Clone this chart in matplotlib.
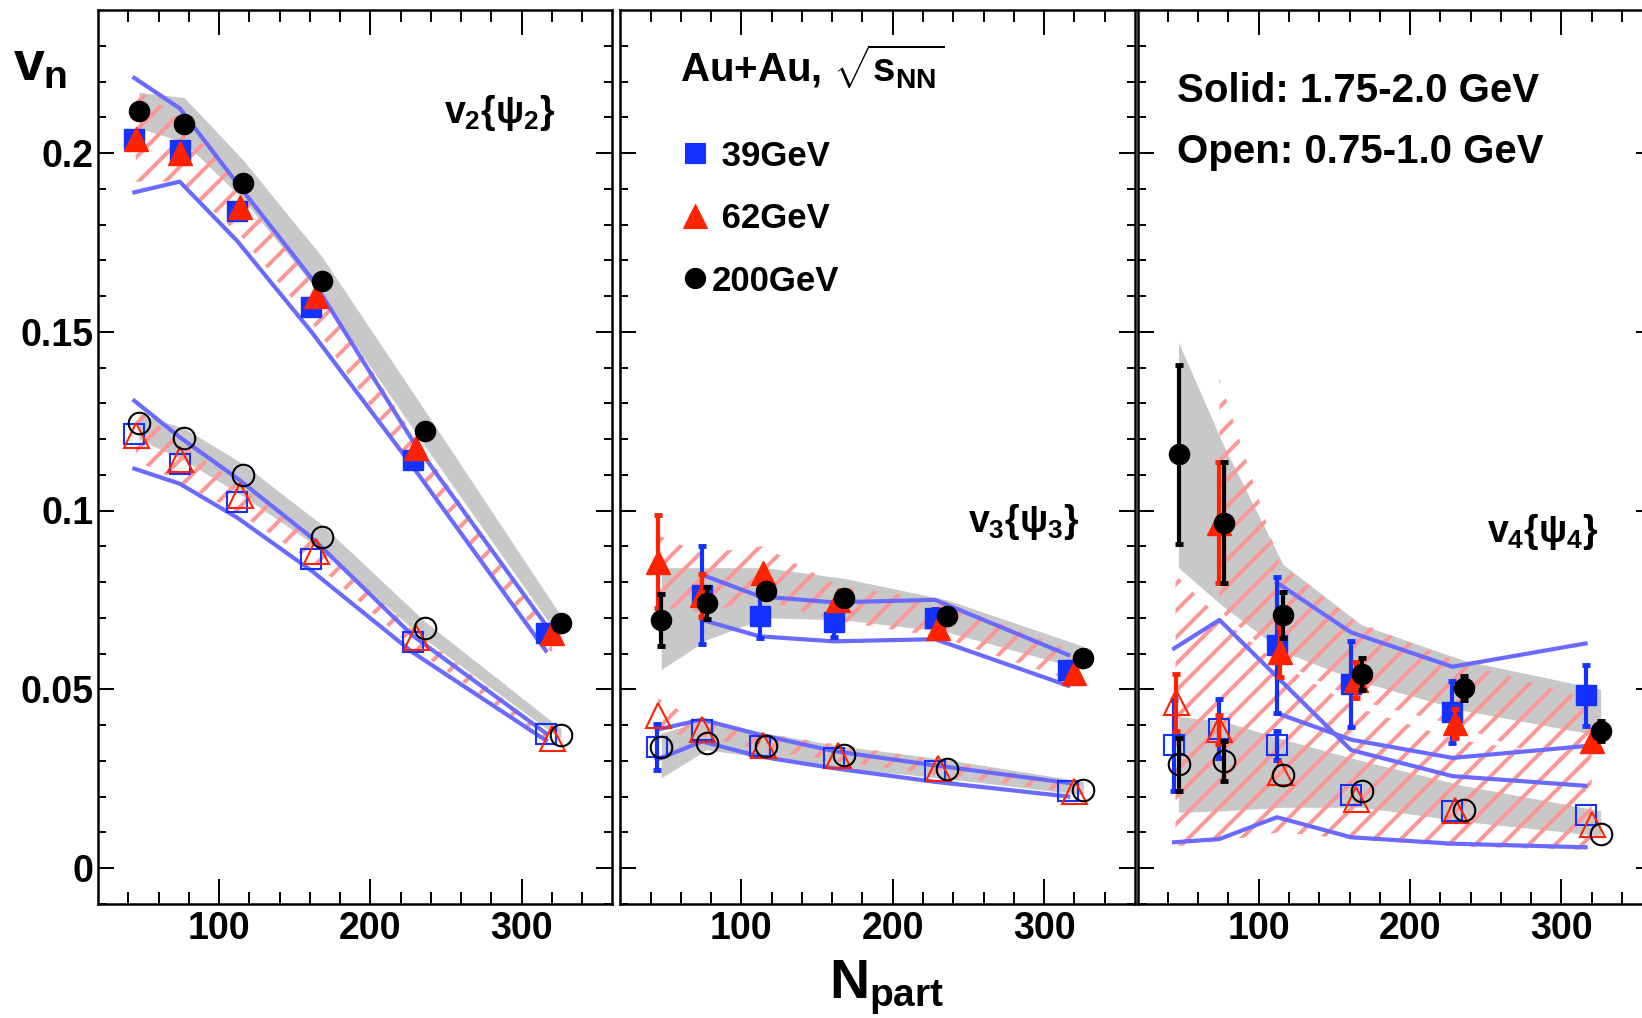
import matplotlib
matplotlib.use("Agg")
import matplotlib.pyplot as plt
from matplotlib.lines import Line2D
import numpy as np

DPI = 80
K = 100.0 / DPI   # keeps point sizes equal to a 100-dpi layout

plt.rcParams['font.family'] = ['Liberation Sans', 'DejaVu Sans']
plt.rcParams['font.weight'] = 'bold'
plt.rcParams['mathtext.fontset'] = 'custom'
plt.rcParams['mathtext.rm'] = 'Liberation Sans:bold'
plt.rcParams['mathtext.it'] = 'Liberation Sans:bold'
plt.rcParams['mathtext.bf'] = 'Liberation Sans:bold'
plt.rcParams['mathtext.sf'] = 'Liberation Sans:bold'
plt.rcParams['hatch.linewidth'] = 3.6

# ---------------- data ----------------
npart_39 = [44, 74, 112, 161, 228, 316]
npart_62 = [45, 74, 114, 164, 230, 320]
npart_200 = [47, 77, 116, 168, 236, 326]

# v2{psi2}
v2_solid_39 = [0.2038, 0.2009, 0.1839, 0.157, 0.1142, 0.0656]
v2_solid_62 = [0.204, 0.200, 0.1848, 0.160, 0.1174, 0.0656]
v2_solid_200 = [0.2118, 0.208, 0.1915, 0.1641, 0.1222, 0.0684]
v2_open_39 = [0.1214, 0.113, 0.1023, 0.0865, 0.0632, 0.0376]
v2_open_62 = [0.121, 0.1145, 0.1042, 0.0888, 0.0646, 0.0363]
v2_open_200 = [0.1244, 0.1202, 0.110, 0.0925, 0.067, 0.0373]

v2_solid_line_hi = [0.221, 0.2125, 0.1915, 0.165, 0.1195, 0.068]
v2_solid_line_lo = [0.189, 0.192, 0.1754, 0.150, 0.1123, 0.0608]
v2_solid_hatch_hi = [0.218, 0.210, 0.191, 0.164, 0.120, 0.066]
v2_solid_hatch_lo = [0.192, 0.192, 0.177, 0.151, 0.111, 0.060]
v2_solid_grey_hi = [0.217, 0.2155, 0.198, 0.171, 0.128, 0.0705]
v2_solid_grey_lo = [0.207, 0.203, 0.187, 0.160, 0.118, 0.064]
v2_open_line_hi = [0.1307, 0.1205, 0.109, 0.0925, 0.065, 0.0377]
v2_open_line_lo = [0.1117, 0.1075, 0.098, 0.0832, 0.0603, 0.0357]
v2_open_hatch_hi = [0.129, 0.119, 0.107, 0.091, 0.066, 0.037]
v2_open_hatch_lo = [0.114, 0.108, 0.099, 0.085, 0.061, 0.035]
v2_open_grey_hi = [0.127, 0.123, 0.113, 0.096, 0.069, 0.039]
v2_open_grey_lo = [0.120, 0.114, 0.104, 0.089, 0.064, 0.036]

# v3{psi3}  (0 error = bar hidden inside the marker)
v3_solid_39 = [0.0764, 0.0704, 0.0687, 0.0699, 0.0555]          # npart_39[1:]
v3_solid_39_err = [0.0137, 0.006, 0.004, 0.0025, 0.0]
v3_solid_62 = [0.0857, 0.0763, 0.0825, 0.075, 0.0671, 0.0545]
v3_solid_62_err = [0.013, 0.006, 0.0, 0.0, 0.0, 0.0]
v3_solid_200 = [0.0694, 0.0741, 0.0774, 0.0755, 0.0705, 0.0587]
v3_solid_200_err = [0.0073, 0.0045, 0.0, 0.0, 0.0, 0.0]
v3_open_39 = [0.0338, 0.0387, 0.034, 0.0308, 0.027, 0.0214]
v3_open_39_err = [0.0065, 0.0, 0.0, 0.0, 0.0, 0.0]
v3_open_62 = [0.0429, 0.039, 0.0345, 0.0317, 0.028, 0.0214]
v3_open_62_err = [0.0, 0.0, 0.0, 0.0, 0.0, 0.0]
v3_open_200 = [0.0338, 0.035, 0.0342, 0.0317, 0.0277, 0.0219]
v3_open_200_err = [0.0, 0.0, 0.0, 0.0, 0.0, 0.0]

v3_solid_line_hi = [0.082, 0.076, 0.0743, 0.075, 0.0596]          # npart_39[1:]
v3_solid_line_lo = [0.0694, 0.0648, 0.0634, 0.064, 0.051]
v3_solid_hatch_hi = [0.093, 0.088, 0.090, 0.079, 0.075, 0.0606]
v3_solid_hatch_lo = [0.073, 0.0715, 0.075, 0.069, 0.0648, 0.0522]
v3_solid_grey_hi = [0.084, 0.084, 0.084, 0.081, 0.075, 0.062]
v3_solid_grey_lo = [0.0555, 0.0638, 0.070, 0.0694, 0.066, 0.0555]
v3_open_line_hi = [0.0387, 0.0415, 0.0373, 0.0327, 0.0287, 0.0238]
v3_open_line_lo = [0.0303, 0.0354, 0.0312, 0.0279, 0.0241, 0.0200]
v3_open_hatch_hi = [0.0475, 0.0405, 0.0377, 0.0345, 0.0303, 0.0238]
v3_open_hatch_lo = [0.0377, 0.0368, 0.0331, 0.0298, 0.026, 0.021]
v3_open_grey_hi = [0.0377, 0.0415, 0.0377, 0.034, 0.0303, 0.0242]
v3_open_grey_lo = [0.0252, 0.0331, 0.0307, 0.0279, 0.025, 0.0205]

# v4{psi4}
v4_solid_39 = [0.0623, 0.0514, 0.0436, 0.0483]                  # npart_39[2:]
v4_solid_39_err = [0.019, 0.012, 0.0087, 0.0085]
v4_solid_62 = [0.0966, 0.0605, 0.0526, 0.0405, 0.0354]          # npart_62[1:]
v4_solid_62_err = [0.017, 0.007, 0.005, 0.004, 0.0]
v4_solid_200 = [0.1157, 0.0966, 0.0707, 0.0542, 0.0504, 0.0383]
v4_solid_200_err = [0.025, 0.017, 0.0065, 0.0045, 0.0034, 0.0028]
v4_open_39 = [0.0343, 0.039, 0.0343, 0.0205, 0.016, 0.0147]
v4_open_39_err = [0.0127, 0.0083, 0.004, 0.0, 0.0, 0.0]
v4_open_62 = [0.0464, 0.0388, 0.0268, 0.0192, 0.0163, 0.0123]
v4_open_62_err = [0.008, 0.004, 0.0, 0.0, 0.0, 0.0]
v4_open_200 = [0.029, 0.0299, 0.0261, 0.0216, 0.0162, 0.0095]
v4_open_200_err = [0.0075, 0.0055, 0.0, 0.0, 0.0, 0.0]

v4_solid_line_hi = [0.0798, 0.0659, 0.0563, 0.0628]             # npart_39[2:]
v4_solid_line_lo = [0.0433, 0.0359, 0.0308, 0.0341]
v4_solid_hatch_hi = [0.137, 0.085, 0.069, 0.058, 0.047]         # npart_62[1:]
v4_solid_hatch_lo = [0.072, 0.058, 0.047, 0.040, 0.026]
v4_solid_grey_hi = [0.147, 0.118, 0.085, 0.068, 0.058, 0.050]
v4_solid_grey_lo = [0.084, 0.073, 0.0605, 0.052, 0.044, 0.037]
v4_open_line_hi = [0.0614, 0.0694, 0.0535, 0.033, 0.0257, 0.0230]
v4_open_line_lo = [0.0072, 0.0081, 0.0142, 0.0086, 0.0068, 0.0058]
v4_open_hatch_hi = [0.082, 0.070, 0.057, 0.045, 0.036, 0.030]
v4_open_hatch_lo = [0.006, 0.0075, 0.010, 0.008, 0.006, 0.005]
v4_open_grey_hi = [0.0424, 0.041, 0.036, 0.030, 0.023, 0.0160]
v4_open_grey_lo = [0.0156, 0.016, 0.017, 0.017, 0.013, 0.009]

x_major = [100, 200, 300]
x_tick_labels = ['100', '200', '300']
y_major = [0, 0.05, 0.1, 0.15, 0.2]
y_tick_labels = ['0', '0.05', '0.1', '0.15', '0.2']
legend_labels = [' 39GeV', ' 62GeV', '200GeV']
panel_labels = [r'$v_{2}\{\psi_{2}\}$', r'$v_{3}\{\psi_{3}\}$', r'$v_{4}\{\psi_{4}\}$']

# ---------------- style ----------------
BLUE = '#1432ff'
RED = '#ff2200'
BLACK = '#000000'
GREY = '#c8c8c8'
HATCH = '#ff9696'
LINE = '#6a6aff'

W, H = 1642, 1018
fig = plt.figure(figsize=(W / DPI, H / DPI), dpi=DPI)
bottom = 1 - 903.75 / H
height = 893.75 / H
lefts = [98, 620.4, 1137.7]
width = 514.4
axes = [fig.add_axes([l / W, bottom, width / W, height]) for l in lefts]


def grey_band(ax, x, lo, hi):
    ax.fill_between(x, lo, hi, color=GREY, lw=0, zorder=1)


def hatch_band(ax, x, lo, hi):
    ax.fill_between(x, lo, hi, facecolor='none', edgecolor=HATCH, hatch='/',
                    lw=0, zorder=2)


def line_pair(ax, x, lo, hi):
    ax.plot(x, hi, color=LINE, lw=3 * K, zorder=3)
    ax.plot(x, lo, color=LINE, lw=3 * K, zorder=3)


def points(ax, x, y, err, marker, color, ms, filled, z):
    x = np.asarray(x, float)
    y = np.asarray(y, float)
    if err is not None:
        e = np.asarray(err, float)
        m = e > 0
        if m.any():
            ax.errorbar(x[m], y[m], yerr=e[m], fmt='none', elinewidth=3 * K,
                        capsize=3 * K, capthick=3.5 * K, ecolor=color, zorder=z)
    ax.plot(x, y, ls='none', marker=marker, ms=ms * K, color=color, mec=color,
            mfc=color if filled else 'none', mew=(1.0 if filled else 1.5) * K,
            zorder=z + 0.5)


# panel 1: v2
ax = axes[0]
grey_band(ax, npart_200, v2_solid_grey_lo, v2_solid_grey_hi)
grey_band(ax, npart_200, v2_open_grey_lo, v2_open_grey_hi)
hatch_band(ax, npart_62, v2_solid_hatch_lo, v2_solid_hatch_hi)
hatch_band(ax, npart_62, v2_open_hatch_lo, v2_open_hatch_hi)
line_pair(ax, npart_39, v2_solid_line_lo, v2_solid_line_hi)
line_pair(ax, npart_39, v2_open_line_lo, v2_open_line_hi)
points(ax, npart_39, v2_solid_39, None, 's', BLUE, 14, True, 4)
points(ax, npart_62, v2_solid_62, None, '^', RED, 17, True, 5)
points(ax, npart_200, v2_solid_200, None, 'o', BLACK, 14.5, True, 6)
points(ax, npart_39, v2_open_39, None, 's', BLUE, 15, False, 4)
points(ax, npart_62, v2_open_62, None, '^', RED, 18, False, 5)
points(ax, npart_200, v2_open_200, None, 'o', BLACK, 15.5, False, 6)

# panel 2: v3
ax = axes[1]
grey_band(ax, npart_200, v3_solid_grey_lo, v3_solid_grey_hi)
grey_band(ax, npart_200, v3_open_grey_lo, v3_open_grey_hi)
hatch_band(ax, npart_62, v3_solid_hatch_lo, v3_solid_hatch_hi)
hatch_band(ax, npart_62, v3_open_hatch_lo, v3_open_hatch_hi)
line_pair(ax, npart_39[1:], v3_solid_line_lo, v3_solid_line_hi)
line_pair(ax, npart_39, v3_open_line_lo, v3_open_line_hi)
points(ax, npart_39[1:], v3_solid_39, v3_solid_39_err, 's', BLUE, 14, True, 4)
points(ax, npart_62, v3_solid_62, v3_solid_62_err, '^', RED, 17, True, 5)
points(ax, npart_200, v3_solid_200, v3_solid_200_err, 'o', BLACK, 14.5, True, 6)
points(ax, npart_39, v3_open_39, v3_open_39_err, 's', BLUE, 15, False, 4)
points(ax, npart_62, v3_open_62, v3_open_62_err, '^', RED, 18, False, 5)
points(ax, npart_200, v3_open_200, v3_open_200_err, 'o', BLACK, 15.5, False, 6)

# panel 3: v4
ax = axes[2]
grey_band(ax, npart_200, v4_solid_grey_lo, v4_solid_grey_hi)
grey_band(ax, npart_200, v4_open_grey_lo, v4_open_grey_hi)
hatch_band(ax, npart_62[1:], v4_solid_hatch_lo, v4_solid_hatch_hi)
hatch_band(ax, npart_62, v4_open_hatch_lo, v4_open_hatch_hi)
line_pair(ax, npart_39[2:], v4_solid_line_lo, v4_solid_line_hi)
line_pair(ax, npart_39, v4_open_line_lo, v4_open_line_hi)
points(ax, npart_39[2:], v4_solid_39, v4_solid_39_err, 's', BLUE, 14, True, 4)
points(ax, npart_62[1:], v4_solid_62, v4_solid_62_err, '^', RED, 17, True, 5)
points(ax, npart_200, v4_solid_200, v4_solid_200_err, 'o', BLACK, 14.5, True, 6)
points(ax, npart_39, v4_open_39, v4_open_39_err, 's', BLUE, 15, False, 4)
points(ax, npart_62, v4_open_62, v4_open_62_err, '^', RED, 18, False, 5)
points(ax, npart_200, v4_open_200, v4_open_200_err, 'o', BLACK, 15.5, False, 6)

# axes styling
for i, ax in enumerate(axes):
    ax.set_xlim(20, 360)
    ax.set_ylim(-0.01, 0.24)
    ax.set_xticks(x_major)
    ax.set_xticklabels(x_tick_labels)
    ax.set_xticks(np.arange(40, 360, 20), minor=True)
    ax.set_yticks(y_major)
    ax.set_yticks(np.arange(-0.01, 0.24, 0.01), minor=True)
    if i == 0:
        ax.set_yticklabels(y_tick_labels)
    else:
        ax.set_yticklabels([])
    ax.tick_params(which='both', direction='in', top=True, right=True,
                   width=1.4 * K, labelsize=27 * K)
    ax.tick_params(axis='x', which='major', length=18 * K, pad=5 * K)
    ax.tick_params(axis='x', which='minor', length=8.5 * K)
    ax.tick_params(axis='y', which='major', length=11.5 * K, pad=3 * K)
    ax.tick_params(axis='y', which='minor', length=6 * K)
    for sp in ax.spines.values():
        sp.set_linewidth(1.8 * K)

axes[0].text(249, 0.2085, panel_labels[0], fontsize=27 * K, ha='left', va='baseline')
axes[1].text(250, 0.0941, panel_labels[1], fontsize=27 * K, ha='left', va='baseline')
axes[2].text(251, 0.0912, panel_labels[2], fontsize=27 * K, ha='left', va='baseline')

# header in panel 2
axes[1].text(59.4, 0.2197, r'Au+Au, $\sqrt{\mathrm{s}_{\mathrm{NN}}}$', fontsize=29 * K,
             ha='left', va='baseline')
handles = [Line2D([], [], ls='none', marker='s', ms=14 * K, color=BLUE),
           Line2D([], [], ls='none', marker='^', ms=17 * K, color=RED),
           Line2D([], [], ls='none', marker='o', ms=14.5 * K, color=BLACK)]
axes[1].legend(handles, legend_labels, loc='upper left',
               bbox_to_anchor=(0.115, 0.855), frameon=False, fontsize=25 * K,
               handlelength=0.9, handletextpad=0.02, labelspacing=0.85,
               borderaxespad=0, borderpad=0)

# header in panel 3
axes[2].text(46, 0.2143, 'Solid: 1.75-2.0 GeV', fontsize=29 * K, ha='left', va='baseline')
axes[2].text(46, 0.1972, 'Open: 0.75-1.0 GeV', fontsize=29 * K, ha='left', va='baseline')

# axis titles
fig.text(13 / W, 1 - 80 / H, r'$v_{n}$', fontsize=40 * K, ha='left', va='baseline')
fig.text(887 / W, 1 - 998 / H, r'$N_{part}$', fontsize=40 * K, ha='center', va='baseline')

fig.savefig('out.png', dpi=DPI)
